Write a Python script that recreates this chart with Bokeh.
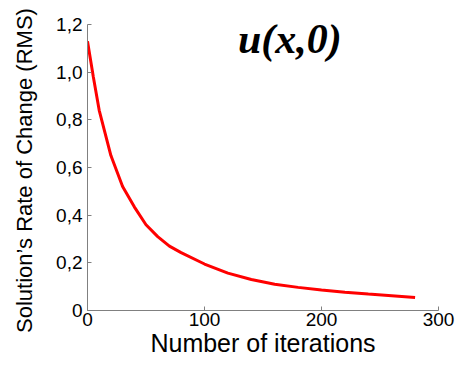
from bokeh.plotting import figure
from bokeh.models import Range1d, FixedTicker, Label
from bokeh.embed import file_html
from bokeh.resources import INLINE

iterations = [0, 5, 10, 20, 30, 40, 50, 60, 70, 80, 100, 120, 140, 160, 180, 200, 220, 240, 260, 280]
rms_change = [1.13, 0.98, 0.84, 0.65, 0.52, 0.435, 0.36, 0.31, 0.27, 0.243, 0.195, 0.157, 0.13, 0.11,
              0.097, 0.086, 0.077, 0.069, 0.062, 0.055]

x_ticks = [0, 100, 200, 300]
x_tick_labels = ["0", "100", "200", "300"]
y_ticks = [0, 0.2, 0.4, 0.6, 0.8, 1.0, 1.2]
y_tick_labels = ["0", "0,2", "0,4", "0,6", "0,8", "1,0", "1,2"]

title_text = "u(x,0)"
x_label = "Number of iterations"
y_label = "Solution\u2019s Rate  of Change (RMS)"

p = figure(width=456, height=359, output_backend="svg", toolbar_location=None,
           x_range=Range1d(0, 300), y_range=Range1d(0, 1.2),
           min_border_left=87, min_border_right=18, min_border_top=24, min_border_bottom=10)
p.outline_line_color = None
p.xgrid.visible = False
p.ygrid.visible = False
p.background_fill_color = "white"

p.line(iterations, rms_change, line_color="#ff0000", line_width=3)

axis_color = "#808080"
for ax in (p.xaxis[0], p.yaxis[0]):
    ax.axis_line_color = axis_color
    ax.major_tick_line_color = axis_color
    ax.major_tick_in = 4
    ax.major_tick_out = 0
    ax.minor_tick_line_color = None
    ax.major_label_text_font = "Liberation Sans"
    ax.major_label_text_font_size = "19px"
    ax.major_label_text_color = "black"
    ax.axis_label_text_font = "Liberation Sans"
    ax.axis_label_text_font_style = "normal"
    ax.axis_label_text_color = "black"

p.xaxis.ticker = FixedTicker(ticks=x_ticks)
p.xaxis.major_label_overrides = dict(zip(x_ticks, x_tick_labels))
p.yaxis.ticker = FixedTicker(ticks=y_ticks)
p.yaxis.major_label_overrides = dict(zip(y_ticks, y_tick_labels))

p.xaxis.axis_label = x_label
p.xaxis.axis_label_text_font_size = "25px"
p.xaxis.axis_label_standoff = 0
p.xaxis.major_label_standoff = 2

p.yaxis.axis_label = y_label
p.yaxis.axis_label_text_font_size = "22px"
p.yaxis.axis_label_standoff = 16
p.yaxis.major_label_standoff = 5

p.add_layout(Label(x=173, y=1.14, text=title_text, text_align="center",
                   text_baseline="alphabetic", text_font="Liberation Serif",
                   text_font_style="bold italic", text_font_size="42px", text_color="black"))

open("out.html", "w").write(file_html(p, INLINE))
